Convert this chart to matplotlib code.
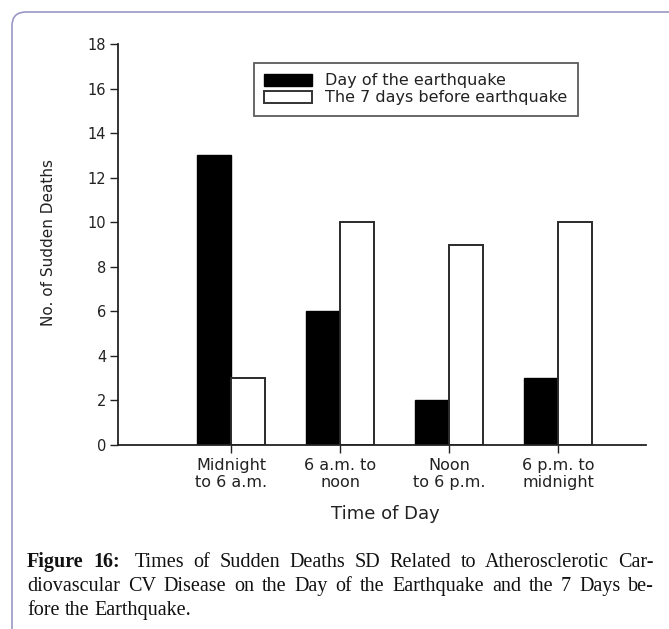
import matplotlib
matplotlib.use('Agg')
import numpy as np
import matplotlib.pyplot as plt
from matplotlib.patches import FancyBboxPatch, Patch
from matplotlib.transforms import IdentityTransform

categories = ['Midnight\nto 6 a.m.', '6 a.m. to\nnoon', 'Noon\nto 6 p.m.', '6 p.m. to\nmidnight']
day_of_quake = [13, 6, 2, 3]
week_before = [3, 10, 9, 10]
series_names = ['Day of the earthquake', 'The 7 days before earthquake']
yticks = list(range(0, 19, 2))
caption_bold = 'Figure 16:'
caption_lines = [
    'Times of Sudden Deaths SD Related to Atherosclerotic Car-',
    'diovascular CV Disease on the Day of the Earthquake and the 7 Days be-',
    'fore the Earthquake.',
]

W, H = 669, 629
plt.rcParams['font.family'] = 'DejaVu Sans'
ink = '#222222'


def fig_xy(x, y):
    # pixel position (from top-left) -> figure fraction
    return x / W, 1 - y / H


fig = plt.figure(figsize=(W / 100, H / 100), dpi=100)

# rounded frame around the figure panel
frame = FancyBboxPatch((12, -40), 720, H - 12 + 40,
                       boxstyle='round,pad=0,rounding_size=14',
                       transform=IdentityTransform(), facecolor='none',
                       edgecolor='#9a97c6', lw=1.2, zorder=0)
fig.add_artist(frame)

ax = fig.add_axes([118 / W, 1 - 445 / H, 528 / W, 401 / H])
x = np.arange(len(categories))
w = 0.31
ax.bar(x - w / 2, day_of_quake, w, color='black', edgecolor='black', lw=1)
ax.bar(x + w / 2, week_before, w, color='white', edgecolor='#2a2a2a', lw=1.4)

ax.set_xlim(-1.037, 3.807)
ax.set_ylim(0, 18)
ax.set_xticks(x)
ax.set_xticklabels(categories, fontsize=11.5, color=ink, linespacing=1.15)
ax.set_yticks(yticks)
ax.set_yticklabels([str(v) for v in yticks], fontsize=10.5, color=ink)

for s in ['top', 'right']:
    ax.spines[s].set_visible(False)
for s in ['left', 'bottom']:
    ax.spines[s].set_linewidth(1.3)
    ax.spines[s].set_color(ink)

ax.tick_params(axis='both', direction='out', length=5.5, width=1, color=ink)
ax.tick_params(axis='y', pad=3)
ax.tick_params(axis='x', pad=4)

ax.set_ylabel('No. of Sudden Deaths', fontsize=11, color=ink)
ax.yaxis.set_label_coords(-0.118, 0.504)
ax.set_xlabel('Time of Day', fontsize=13, color=ink)
ax.xaxis.set_label_coords(0.506, -0.15)

handles = [Patch(facecolor='black', edgecolor='black'),
           Patch(facecolor='white', edgecolor='#333333', lw=1.4)]
leg = ax.legend(handles, series_names, loc='upper left',
                bbox_to_anchor=fig_xy(254, 63), bbox_transform=fig.transFigure,
                frameon=True, fancybox=False, edgecolor='#333333',
                borderaxespad=0, prop=dict(size=11.5),
                handlelength=3.0, handleheight=0.75, handletextpad=0.8,
                labelspacing=0.12, borderpad=0.65)
leg.get_frame().set_linewidth(1.3)
for t in leg.get_texts():
    t.set_color(ink)

# caption, justified like the journal text
renderer = fig.canvas.get_renderer()
left, right = 27, 654
baselines = [567, 591, 615]
for i, line in enumerate(caption_lines):
    words = [(wd, False) for wd in line.split()]
    if i == 0:
        words = [(wd, True) for wd in caption_bold.split()] + words
    texts = []
    for wd, bold in words:
        t = fig.text(0, 0, wd, family='Liberation Serif', size=14.5,
                     weight='bold' if bold else 'normal', va='baseline',
                     color='#111111')
        texts.append(t)
    widths = [t.get_window_extent(renderer).width for t in texts]
    extra = 6 if i == 0 else 0
    if i < len(caption_lines) - 1:
        gap = (right - left - sum(widths) - extra) / (len(texts) - 1)
    else:
        gap = 5
    cur = left
    for j, (t, wd) in enumerate(zip(texts, widths)):
        t.set_position(fig_xy(cur, baselines[i]))
        cur += wd + gap
        if i == 0 and j == 1:
            cur += extra

fig.savefig('out.png', dpi=100)
